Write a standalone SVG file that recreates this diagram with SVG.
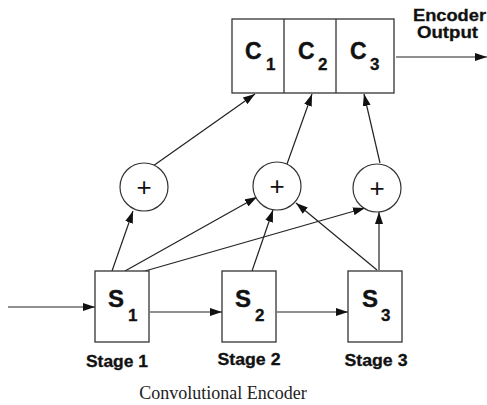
<svg xmlns="http://www.w3.org/2000/svg" width="487" height="405" viewBox="0 0 487 405">
<defs>
<marker id="ah" viewBox="0 0 12 8" refX="12" refY="4" markerWidth="12" markerHeight="8" markerUnits="userSpaceOnUse" orient="auto">
<path d="M0,0 L12,4 L0,8 Z" fill="#111"/>
</marker>
</defs>
<style>
.box{fill:#fff;stroke:#333;stroke-width:1.3}
.circ{fill:#fff;stroke:#333;stroke-width:1.2}
.ln{stroke:#222;stroke-width:1.2;fill:none;marker-end:url(#ah)}
.big{font-family:"Liberation Sans",Arial,sans-serif;font-weight:bold;font-size:23px;fill:#111;stroke:#111;stroke-width:0.4}
.sbig{font-family:"Liberation Sans",Arial,sans-serif;font-weight:bold;font-size:24px;fill:#111;stroke:#111;stroke-width:0.4}
.sub{font-family:"Liberation Sans",Arial,sans-serif;font-weight:bold;font-size:17px;fill:#111;stroke:#111;stroke-width:0.3}
.lab{font-family:"Liberation Sans",Arial,sans-serif;font-weight:bold;font-size:16px;fill:#111;stroke:#111;stroke-width:0.3}
.plus{font-family:"Liberation Sans",Arial,sans-serif;font-size:26px;fill:#111}
.cap{font-family:"Liberation Serif","Times New Roman",serif;font-size:18px;fill:#222}
</style>
<rect width="487" height="405" fill="#fff"/>
<g id="connectors">
<line class="ln" x1="8" y1="307" x2="95" y2="307"/>
<line class="ln" x1="150" y1="312" x2="222" y2="312"/>
<line class="ln" x1="277" y1="312" x2="348" y2="312"/>
<line class="ln" x1="396" y1="57" x2="487" y2="57"/>
<line class="ln" x1="112" y1="271" x2="133" y2="211"/>
<line class="ln" x1="125" y1="271" x2="257" y2="197"/>
<line class="ln" x1="145" y1="271" x2="365" y2="208"/>
<line class="ln" x1="252" y1="271" x2="273" y2="210"/>
<line class="ln" x1="377" y1="270" x2="296" y2="203"/>
<line class="ln" x1="379" y1="270" x2="379" y2="212"/>
<line class="ln" x1="153" y1="166" x2="255" y2="94"/>
<line class="ln" x1="287" y1="164" x2="312" y2="94"/>
<line class="ln" x1="380" y1="163" x2="364" y2="94"/>
</g>
<g id="C">
<rect class="box" x="232" y="19" width="162" height="74"/>
<line stroke="#333" stroke-width="1.3" x1="284" y1="19" x2="284" y2="93"/>
<line stroke="#333" stroke-width="1.3" x1="336" y1="19" x2="336" y2="93"/>
<text class="big" x="245" y="59">C</text><text class="sub" x="266" y="70">1</text>
<text class="big" x="298" y="59">C</text><text class="sub" x="318" y="70">2</text>
<text class="big" x="350" y="59">C</text><text class="sub" x="370" y="70">3</text>
</g>
<g id="output-label">
<text class="lab" x="413" y="21" textLength="73" lengthAdjust="spacingAndGlyphs">Encoder</text>
<text class="lab" x="417" y="38" textLength="61" lengthAdjust="spacingAndGlyphs">Output</text>
</g>
<g id="add1"><circle class="circ" cx="144" cy="187" r="24"/><text class="plus" x="144" y="196" text-anchor="middle">+</text></g>
<g id="add2"><circle class="circ" cx="277" cy="186" r="24"/><text class="plus" x="277" y="195" text-anchor="middle">+</text></g>
<g id="add3"><circle class="circ" cx="377" cy="188" r="24"/><text class="plus" x="377" y="197" text-anchor="middle">+</text></g>
<g id="S1">
<rect class="box" x="95" y="271" width="54" height="71"/>
<text class="sbig" x="108" y="307">S</text><text class="sub" x="128" y="321">1</text>
<text class="lab" x="117" y="367" text-anchor="middle" textLength="62" lengthAdjust="spacingAndGlyphs">Stage 1</text>
</g>
<g id="S2">
<rect class="box" x="222" y="271" width="54" height="71"/>
<text class="sbig" x="235" y="307">S</text><text class="sub" x="255" y="321">2</text>
<text class="lab" x="249" y="365" text-anchor="middle" textLength="63" lengthAdjust="spacingAndGlyphs">Stage 2</text>
</g>
<g id="S3">
<rect class="box" x="348" y="271" width="54" height="71"/>
<text class="sbig" x="362" y="307">S</text><text class="sub" x="381" y="321">3</text>
<text class="lab" x="376" y="366" text-anchor="middle" textLength="63" lengthAdjust="spacingAndGlyphs">Stage 3</text>
</g>
<text class="cap" x="223" y="399" text-anchor="middle">Convolutional Encoder</text>
</svg>
